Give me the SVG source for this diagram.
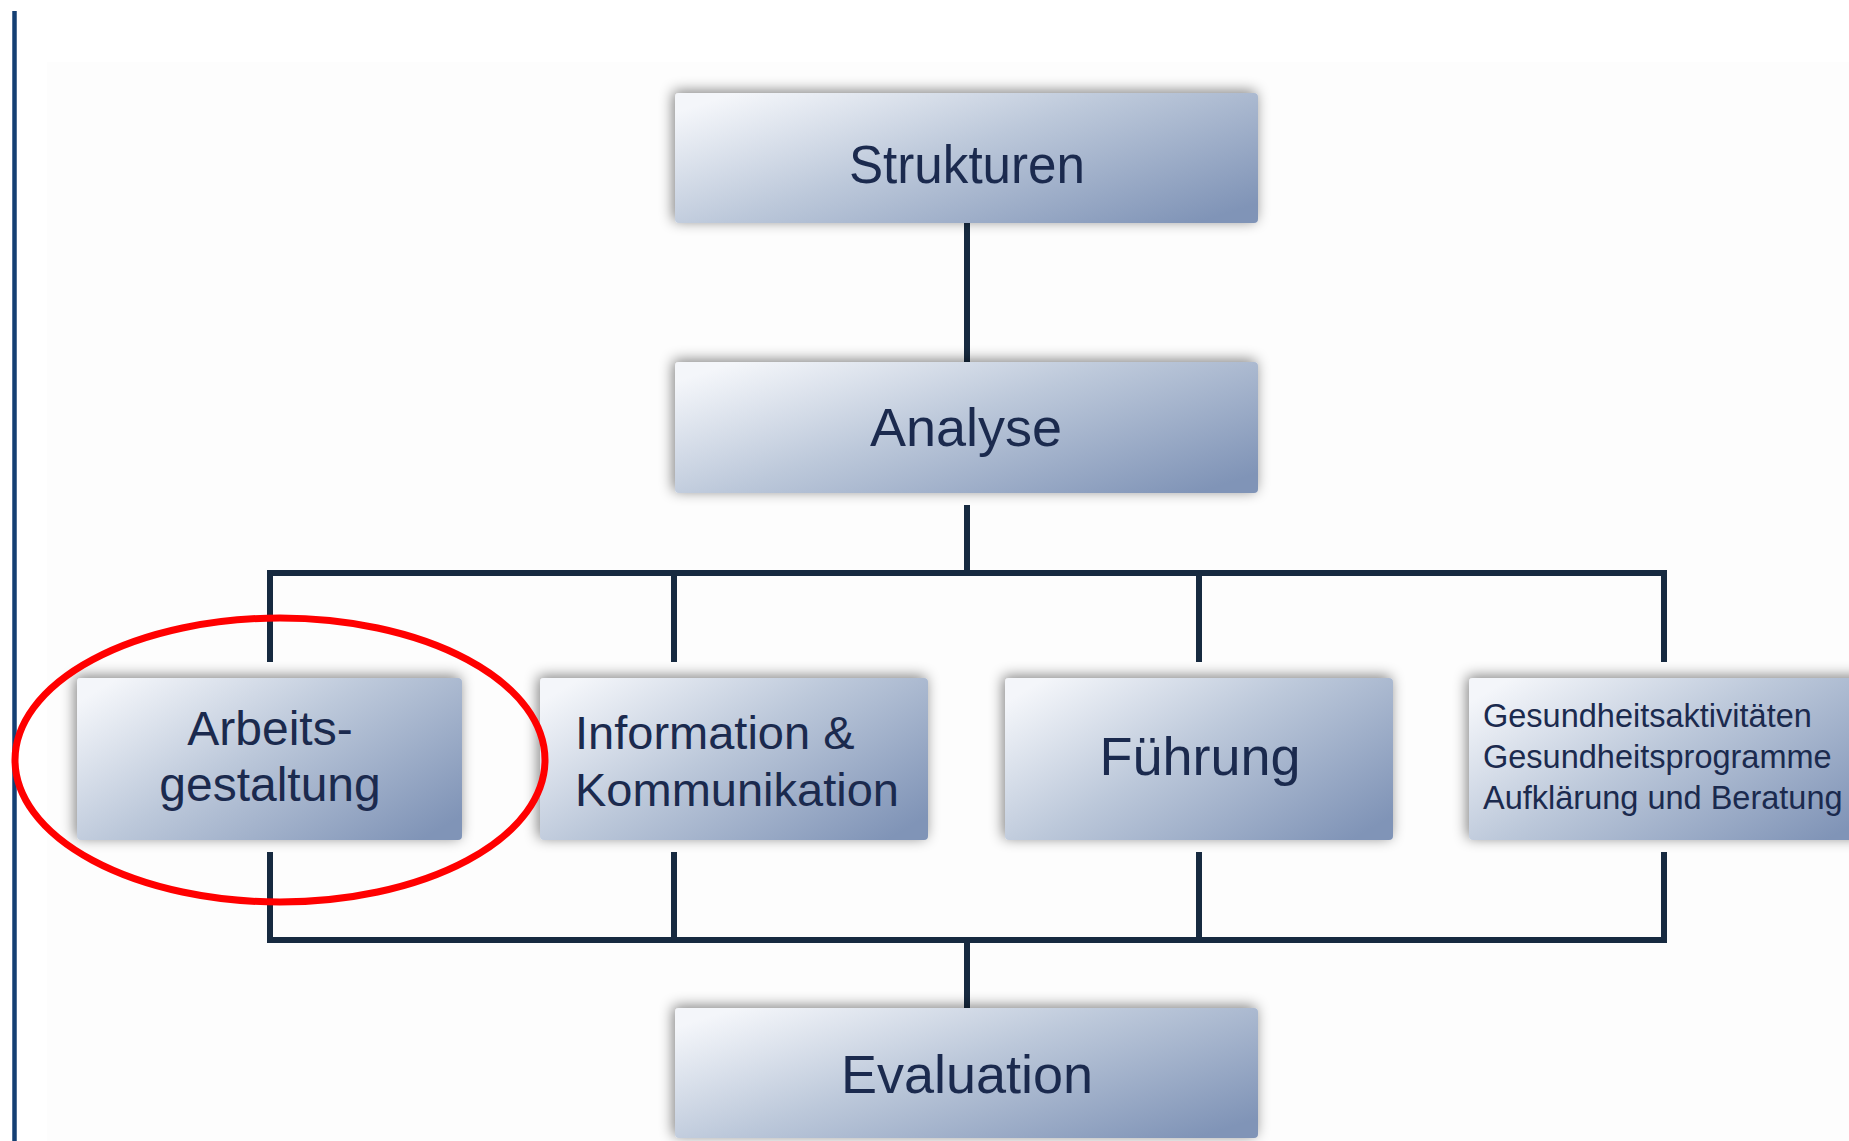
<svg xmlns="http://www.w3.org/2000/svg" width="1849" height="1141" viewBox="0 0 1849 1141">
  <defs>
    <linearGradient id="boxGrad" x1="0" y1="0.15" x2="1" y2="0.85" gradientUnits="objectBoundingBox">
      <stop offset="0" stop-color="#f4f6fa"/>
      <stop offset="0.45" stop-color="#bcc8da"/>
      <stop offset="1" stop-color="#8094b7"/>
    </linearGradient>
    <filter id="shadow" x="-10%" y="-30%" width="120%" height="160%">
      <feGaussianBlur in="SourceAlpha" stdDeviation="7"/>
      <feOffset dx="-2" dy="-2" result="b"/>
      <feComponentTransfer><feFuncA type="linear" slope="0.5"/></feComponentTransfer>
      <feMerge><feMergeNode/><feMergeNode in="SourceGraphic"/></feMerge>
    </filter>
    <style>
      .box { fill: url(#boxGrad); filter: url(#shadow); }
      .lbl { font-family: "Liberation Sans", Arial, sans-serif; fill: #1b2a4e; }
      .big { font-size: 54px; text-anchor: middle; }
      .mid { font-size: 47px; }
      .sml { font-size: 32.5px; }
      .conn { stroke: #172a40; stroke-width: 6; fill: none; }
    </style>
  </defs>

  <rect x="0" y="0" width="1849" height="1141" fill="#ffffff"/>
  <rect x="47" y="62" width="1802" height="1079" fill="#fdfdfd"/>
  <line x1="14.5" y1="11" x2="14.5" y2="1141" stroke="#143f73" stroke-width="4.5"/>

  <g id="connectors">
    <line class="conn" x1="967" y1="222" x2="967" y2="362"/>
    <line class="conn" x1="967" y1="505" x2="967" y2="573"/>
    <polyline class="conn" points="270,662 270,573 1664,573 1664,662"/>
    <line class="conn" x1="674" y1="573" x2="674" y2="662"/>
    <line class="conn" x1="1199" y1="573" x2="1199" y2="662"/>
    <polyline class="conn" points="270,852 270,940 1664,940 1664,852"/>
    <line class="conn" x1="674" y1="852" x2="674" y2="940"/>
    <line class="conn" x1="1199" y1="852" x2="1199" y2="940"/>
    <line class="conn" x1="967" y1="940" x2="967" y2="1008"/>
  </g>

  <g id="strukturen">
    <rect class="box" x="675" y="93" width="583" height="130" rx="4"/>
    <text class="lbl big" x="967" y="183" textLength="236" lengthAdjust="spacingAndGlyphs">Strukturen</text>
  </g>

  <g id="analyse">
    <rect class="box" x="675" y="362" width="583" height="131" rx="4"/>
    <text class="lbl big" x="966" y="446">Analyse</text>
  </g>

  <g id="arbeitsgestaltung">
    <rect class="box" x="77" y="678" width="385" height="162" rx="4"/>
    <text class="lbl mid" x="270" y="745" text-anchor="middle" style="font-size:48px">Arbeits-</text>
    <text class="lbl mid" x="270" y="801" text-anchor="middle" style="font-size:48px">gestaltung</text>
  </g>

  <g id="information">
    <rect class="box" x="540" y="678" width="388" height="162" rx="4"/>
    <text class="lbl mid" x="575" y="749">Information &amp;</text>
    <text class="lbl mid" x="575" y="806">Kommunikation</text>
  </g>

  <g id="fuehrung">
    <rect class="box" x="1005" y="678" width="388" height="162" rx="4"/>
    <text class="lbl big" x="1200" y="775">Führung</text>
  </g>

  <g id="gesundheit">
    <rect class="box" x="1469" y="678" width="400" height="162" rx="4"/>
    <text class="lbl sml" x="1483" y="727">Gesundheitsaktivitäten</text>
    <text class="lbl sml" x="1483" y="768">Gesundheitsprogramme</text>
    <text class="lbl sml" x="1483" y="809">Aufklärung und Beratung</text>
  </g>

  <g id="evaluation">
    <rect class="box" x="675" y="1008" width="583" height="130" rx="4"/>
    <text class="lbl big" x="967" y="1093">Evaluation</text>
  </g>

  <ellipse id="highlight" cx="280" cy="760" rx="265" ry="142" fill="none" stroke="#ff0000" stroke-width="7"/>
</svg>
